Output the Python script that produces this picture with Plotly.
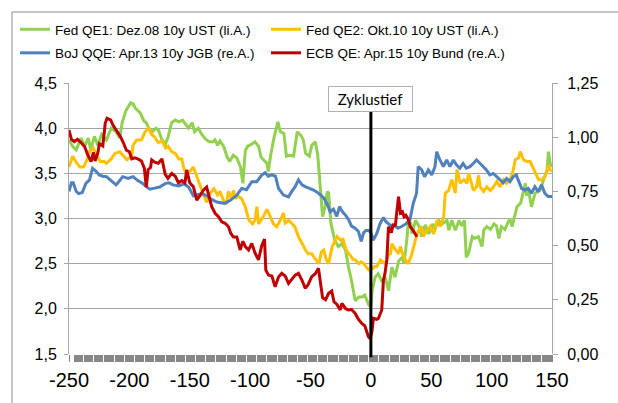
import plotly.graph_objects as go

# ---------------- data ----------------
qe1_x = [-250, -247, -244, -240, -237, -234, -232, -229, -226, -223, -219, -215, -211, -208, -206, -203,
         -199, -197, -195, -191, -188, -186, -184, -181, -178, -176, -173, -170, -168, -165, -162, -159,
         -156, -153, -151, -148, -146, -143, -140, -137, -134, -131, -129, -127, -125, -122, -119, -117,
         -114, -111, -108, -106, -104, -102, -99, -96, -93, -91, -89, -86, -85, -83, -80, -77, -75, -72,
         -70, -67, -64, -61, -58, -56, -54, -51, -49, -46, -44, -42, -40, -38, -36, -35, -33, -30, -27,
         -24, -21, -18.5, -16, -13, -10, -7.5, -5, -2, 0, 1, 3.5, 6, 9, 12, 14.6, 17.4, 20, 23, 26, 27.5,
         30, 31, 33, 34, 37, 40, 42, 45, 48, 51, 53, 56, 59, 63, 64.5, 67, 70, 73, 75, 77.5, 79, 81, 84,
         86, 89, 92, 93.5, 96, 99, 102, 104, 106, 108, 111, 113, 115, 117, 119.5, 121, 124, 126, 128,
         129, 130, 131, 133, 136, 140, 143, 146, 147, 148.5, 150]
qe1_y = [3.87, 3.80, 3.76, 3.89, 3.80, 3.89, 3.76, 3.91, 3.81, 3.93, 3.87, 4.00, 3.96, 3.89, 4.06, 4.19,
         4.28, 4.27, 4.22, 4.17, 4.08, 4.06, 4.00, 3.96, 4.00, 3.98, 3.87, 3.83, 3.90, 4.06, 4.09, 4.07,
         4.09, 4.04, 4.00, 4.06, 3.96, 4.00, 3.93, 3.88, 3.85, 3.85, 3.87, 3.81, 3.86, 3.80, 3.68, 3.63,
         3.70, 3.67, 3.57, 3.39, 3.75, 3.80, 3.82, 3.85, 3.80, 3.68, 3.65, 3.61, 3.52, 3.70, 3.91, 4.07,
         3.96, 3.94, 3.69, 3.70, 3.69, 3.96, 3.92, 3.87, 3.72, 3.69, 3.81, 3.85, 3.70, 3.31, 3.02, 3.13,
         3.30, 3.28, 2.94, 2.76, 2.69, 2.72, 2.65, 2.46, 2.31, 2.09, 2.13, 2.13, 2.15, 2.05, 2.02, 2.20,
         2.35, 2.39, 2.31, 2.35, 2.20, 2.46, 2.35, 2.53, 2.57, 2.50, 2.79, 2.98, 2.95, 2.83, 2.98, 2.91,
         2.80, 2.93, 2.83, 2.94, 2.88, 2.98, 2.94, 2.98, 2.87, 2.98, 2.87, 2.98, 2.92, 2.98, 2.57, 2.62,
         2.80, 2.78, 2.80, 2.69, 2.87, 2.91, 2.88, 2.94, 2.92, 2.78, 2.91, 2.88, 2.94, 3.00, 2.91, 3.05,
         3.13, 3.17, 3.28, 3.39, 3.25, 3.33, 3.28, 3.13, 3.28, 3.31, 3.43, 3.54, 3.74, 3.61, 3.57]

qe2_x = [-250, -247, -244, -241, -238, -235, -233, -230, -227, -224, -221, -219, -215, -212, -208, -205,
         -202, -198, -197, -194, -190, -187, -184, -181.5, -179, -176, -173, -170, -168, -165, -162, -159,
         -156.6, -155, -152.5, -150, -147, -144, -141.5, -139, -136, -133, -130, -127, -125, -122, -119.5,
         -118, -115.5, -113.8, -112, -110, -107, -104, -101, -98, -96, -94.4, -93, -90, -86, -83.4, -80.7,
         -78, -75, -72.4, -71, -68, -65.5, -63, -60, -57, -54.5, -52, -49, -47, -45, -43, -41, -39, -37,
         -35, -32, -30, -28, -25, -23, -21, -19, -17, -15, -12.8, -10, -8, -5.9, -1.8, 1, 3, 5, 7.9, 10,
         12, 14.6, 16.2, 17.4, 20, 23, 24.4, 26, 28.5, 31, 34, 36.8, 39.6, 42, 43.5, 46.5, 49, 52, 54.8,
         57.5, 60.3, 61.6, 64.4, 67, 69.9, 71.3, 74, 77, 79.6, 81, 82.3, 84, 85, 87.5, 89.2, 90.5, 93.3,
         96, 98.8, 101.6, 104.4, 107, 109.8, 112.5, 115.4, 118, 119.5, 122.3, 123.7, 126.4, 129.2, 131.9,
         133.3, 136.1, 138.9, 141.7, 144.4, 145.8, 147.1, 148.5, 150]
qe2_y = [3.57, 3.69, 3.62, 3.57, 3.57, 3.65, 3.74, 3.78, 3.70, 3.63, 3.63, 3.61, 3.66, 3.72, 3.74, 3.69,
         3.65, 3.69, 3.81, 3.87, 3.87, 3.96, 4.00, 3.93, 3.90, 3.84, 3.86, 3.78, 3.80, 3.74, 3.72, 3.66,
         3.66, 3.56, 3.48, 3.52, 3.57, 3.46, 3.36, 3.28, 3.18, 3.28, 3.33, 3.26, 3.30, 3.20, 3.16, 3.30,
         3.22, 3.31, 3.22, 3.25, 3.22, 3.13, 2.98, 2.94, 2.98, 3.13, 2.94, 3.00, 3.10, 3.02, 2.94, 2.91,
         2.98, 3.06, 2.95, 2.98, 2.94, 2.91, 2.80, 2.72, 2.66, 2.61, 2.61, 2.57, 2.53, 2.50, 2.63, 2.65,
         2.55, 2.50, 2.69, 2.75, 2.80, 2.76, 2.77, 2.67, 2.62, 2.59, 2.55, 2.54, 2.50, 2.52, 2.50, 2.43,
         2.44, 2.47, 2.47, 2.54, 2.52, 2.50, 2.60, 2.61, 2.72, 2.66, 2.61, 2.69, 2.62, 2.54, 2.50, 2.61,
         2.76, 2.87, 2.91, 2.80, 2.87, 2.91, 2.83, 2.98, 2.91, 3.02, 3.28, 3.31, 3.43, 3.28, 3.54, 3.39,
         3.43, 3.39, 3.50, 3.43, 3.33, 3.31, 3.35, 3.48, 3.35, 3.30, 3.35, 3.31, 3.35, 3.41, 3.35, 3.43,
         3.39, 3.43, 3.54, 3.65, 3.67, 3.74, 3.65, 3.63, 3.63, 3.59, 3.50, 3.43, 3.43, 3.47, 3.52, 3.59,
         3.54, 3.52]

boj_x = [-250, -248, -246.5, -244, -242, -239, -236, -233, -230.5, -228, -225, -222, -219, -215, -211,
         -208, -205.6, -201, -197, -193, -189, -186, -183, -179, -175, -170, -167, -164, -159, -155, -151,
         -147, -143, -140, -136, -132, -127, -121, -116, -111, -107, -103, -98.6, -94.5, -90.3, -87.5, -85,
         -82, -79, -76.5, -72.4, -68.2, -65.5, -62.7, -60, -57, -54.4, -51, -47, -43, -39, -36, -33.7, -31,
         -28.2, -26, -24, -21, -18.5, -16, -13, -10.3, -8, -6, -4, -2, 0, 2, 4.9, 7.5, 10.4, 12.5, 14.6,
         17.2, 20, 22.5, 25.4, 29, 32.3, 35.1, 37.8, 39.2, 42, 44.5, 47.6, 50.4, 53.1, 54.5, 57.2, 60,
         62.8, 65.5, 68.3, 71, 73.7, 76.4, 79, 82, 85, 87.5, 90.3, 93, 95.7, 98.5, 101.3, 104.2, 106.9,
         109.6, 112.4, 115.2, 117.9, 120.5, 122, 124.8, 127.5, 130.3, 133, 135.8, 138.6, 141.3, 144.1,
         146.8, 150]
boj_y = [0.750, 0.790, 0.790, 0.750, 0.740, 0.745, 0.787, 0.803, 0.856, 0.845, 0.826, 0.820, 0.818, 0.800,
         0.780, 0.800, 0.818, 0.810, 0.818, 0.800, 0.787, 0.772, 0.760, 0.765, 0.770, 0.787, 0.790, 0.780,
         0.775, 0.785, 0.770, 0.730, 0.735, 0.740, 0.730, 0.713, 0.700, 0.695, 0.710, 0.733, 0.764, 0.758,
         0.795, 0.795, 0.826, 0.836, 0.820, 0.826, 0.820, 0.764, 0.733, 0.725, 0.750, 0.772, 0.803, 0.780,
         0.772, 0.765, 0.755, 0.740, 0.720, 0.690, 0.655, 0.668, 0.635, 0.680, 0.660, 0.640, 0.620, 0.590,
         0.580, 0.565, 0.520, 0.560, 0.570, 0.570, 0.560, 0.525, 0.556, 0.600, 0.630, 0.610, 0.600, 0.588,
         0.590, 0.580, 0.588, 0.600, 0.618, 0.695, 0.740, 0.864, 0.850, 0.818, 0.849, 0.826, 0.864, 0.933,
         0.895, 0.864, 0.895, 0.864, 0.895, 0.872, 0.857, 0.879, 0.857, 0.864, 0.880, 0.895, 0.880, 0.864,
         0.849, 0.826, 0.833, 0.818, 0.803, 0.790, 0.810, 0.795, 0.818, 0.826, 0.803, 0.764, 0.756, 0.764,
         0.741, 0.772, 0.749, 0.780, 0.741, 0.726, 0.726]

ecb_x = [-250, -248, -245.6, -243, -240, -237, -234.5, -231.7, -229.8, -228.4, -226, -224.9, -222, -220,
         -218.5, -215.5, -213.5, -210.5, -207.7, -205, -202.5, -200, -198, -195.5, -193, -190, -187.6, -186,
         -184.5, -182.5, -181.5, -179, -176, -173, -170.4, -168, -164.9, -162, -159.4, -156.5, -154, -152.5,
         -150, -147, -144.2, -141.5, -138.7, -136, -133.5, -131.8, -129, -126.2, -123.5, -120.7, -117.9,
         -116, -113.8, -111, -108.3, -106, -104, -101.3, -98.6, -95.8, -93.1, -90.4, -88.1, -87, -84.8, -82,
         -79.3, -76.5, -73.8, -71, -68.2, -65.5, -62.7, -60, -57, -54.4, -52, -49, -46, -43.4, -41.5, -40,
         -37.5, -35, -32.4, -30.5, -28.2, -25.4, -24, -21, -18.6, -16, -13.1, -10.3, -7.5, -5, -2, -0.5, 1,
         2.1, 4.9, 6.2, 9, 10.4, 11.7, 13.2, 14.6, 17, 18.5, 20.2, 22.9, 24.5, 26.2, 27.5, 29, 31, 32.6, 35,
         38.1]
ecb_y = [1.033, 0.990, 0.980, 0.990, 0.975, 0.956, 0.918, 0.887, 0.930, 0.890, 0.930, 0.970, 0.960, 1.064,
         1.087, 1.080, 1.055, 1.030, 1.005, 0.975, 0.940, 0.933, 0.900, 0.905, 0.900, 0.890, 0.856, 0.770,
         0.850, 0.860, 0.895, 0.885, 0.880, 0.900, 0.830, 0.810, 0.833, 0.820, 0.790, 0.800, 0.790, 0.849,
         0.790, 0.772, 0.710, 0.730, 0.756, 0.770, 0.720, 0.679, 0.649, 0.633, 0.610, 0.603, 0.587, 0.556,
         0.540, 0.540, 0.480, 0.520, 0.495, 0.480, 0.510, 0.464, 0.434, 0.500, 0.530, 0.387, 0.364, 0.360,
         0.310, 0.355, 0.372, 0.360, 0.326, 0.345, 0.364, 0.372, 0.340, 0.303, 0.320, 0.357, 0.370, 0.395,
         0.330, 0.260, 0.250, 0.280, 0.290, 0.240, 0.230, 0.203, 0.233, 0.210, 0.203, 0.205, 0.188, 0.160,
         0.141, 0.130, 0.080, 0.070, 0.110, 0.165, 0.160, 0.164, 0.203, 0.340, 0.372, 0.434, 0.587, 0.560,
         0.600, 0.590, 0.726, 0.650, 0.656, 0.633, 0.640, 0.620, 0.587, 0.570, 0.541]

names = ["Fed QE1: Dez.08 10y UST (li.A.)", "Fed QE2: Okt.10 10y UST (li.A.)",
         "BoJ QQE: Apr.13 10y JGB (re.A.)", "ECB QE: Apr.15 10y Bund (re.A.)"]
colors = ["#92D050", "#FFC000", "#4F81BD", "#C00000"]
x_ticks = [-250, -200, -150, -100, -50, 0, 50, 100, 150]
marker_label = "Zyklustief"

# ---------------- figure ----------------
W, H = 618, 403
L, R, T, B = 69, 66, 83, 49
PW, PH = W - L - R, H - T - B
GRID = "#a6a6a6"
TICKFONT = "Liberation Sans, Arial, sans-serif"
LEGFONT = dict(family="Liberation Sans, Arial, sans-serif", size=13.5, color="black")

fig = go.Figure()
series = [(qe1_x, qe1_y, "y", "legend"), (qe2_x, qe2_y, "y", "legend2"),
          (boj_x, boj_y, "y2", "legend"), (ecb_x, ecb_y, "y2", "legend2")]
for i, ((xs, ys, ax, lg), name, col) in enumerate(zip(series, names, colors)):
    fig.add_trace(go.Scatter(x=xs, y=ys, name=name, yaxis=ax, legend=lg, legendgroup=f"g{i}",
                             mode="lines", line=dict(color=col, width=3), hoverinfo="skip"))

def legend_at(px_left, px_top):
    return dict(orientation="v", xref="paper", yref="paper",
                x=(px_left - L) / PW, y=1 + (T - px_top) / PH,
                xanchor="left", yanchor="top", font=LEGFONT,
                bgcolor="rgba(0,0,0,0)", borderwidth=0, traceorder="grouped",
                itemwidth=30, tracegroupgap=3)

fig.update_layout(
    width=W, height=H,
    margin=dict(l=L, r=R, t=T, b=B, autoexpand=False),
    paper_bgcolor="white", plot_bgcolor="white",
    separators=",.",
    showlegend=True,
    legend=legend_at(15, 14),
    legend2=legend_at(266, 14),
    xaxis=dict(range=[-250, 150], tickmode="array", tickvals=x_ticks,
               ticktext=[str(v) for v in x_ticks],
               showgrid=False, zeroline=False, showline=False,
               ticks="outside", ticklen=7, tickcolor="#878787", tickwidth=1,
               tickfont=dict(family=TICKFONT, size=20, color="black"),
               ticklabelstandoff=1,
               minor=dict(ticks="outside", ticklen=7, tickcolor="#878787", tickwidth=9.2,
                          tick0=150 - 8.434 / 2, dtick=8.434, showgrid=False)),
    yaxis=dict(range=[1.5, 4.5], dtick=0.5, tick0=1.5, tickformat=".1f",
               showgrid=True, gridcolor=GRID, gridwidth=1, zeroline=False,
               showline=True, linecolor=GRID, linewidth=1,
               ticks="outside", ticklen=4, tickcolor=GRID,
               ticklabelstandoff=4,
               tickfont=dict(family=TICKFONT, size=16, color="black")),
    yaxis2=dict(range=[0, 1.25], dtick=0.25, tick0=0, tickformat=".2f",
                overlaying="y", side="right", showgrid=False, zeroline=False,
                showline=True, linecolor=GRID, linewidth=1,
                ticks="outside", ticklen=5, tickcolor=GRID,
                ticklabelstandoff=6,
                tickfont=dict(family=TICKFONT, size=16, color="black")),
)

# outer chart border (partially cropped in the reference)
fig.add_shape(type="rect", xref="paper", yref="paper",
              x0=(12 - L) / PW, x1=(W + 20 - L) / PW,
              y0=-(H + 20 - (H - B)) / PH, y1=1 + (T - 12) / PH,
              line=dict(color="#8c8c8c", width=1), fillcolor="rgba(0,0,0,0)", layer="below")

# vertical line at the cycle low
fig.add_shape(type="line", xref="x", yref="paper", x0=0, x1=0, y0=-0.012,
              y1=(H - B - 112) / PH, line=dict(color="black", width=3))

fig.add_annotation(x=0, xref="x", y=(H - B - 99) / PH, yref="paper",
                   text=marker_label, showarrow=False, xanchor="center", yanchor="middle",
                   font=dict(family="Lato, Open Sans, sans-serif", size=15, color="black"),
                   bgcolor="white", bordercolor="#b0b0b0", borderwidth=1, borderpad=1,
                   width=81, height=22)

fig.write_html("out.html", config={"displayModeBar": False, "staticPlot": True},
               post_script="document.body.style.margin='0';document.body.style.overflow='hidden';")
